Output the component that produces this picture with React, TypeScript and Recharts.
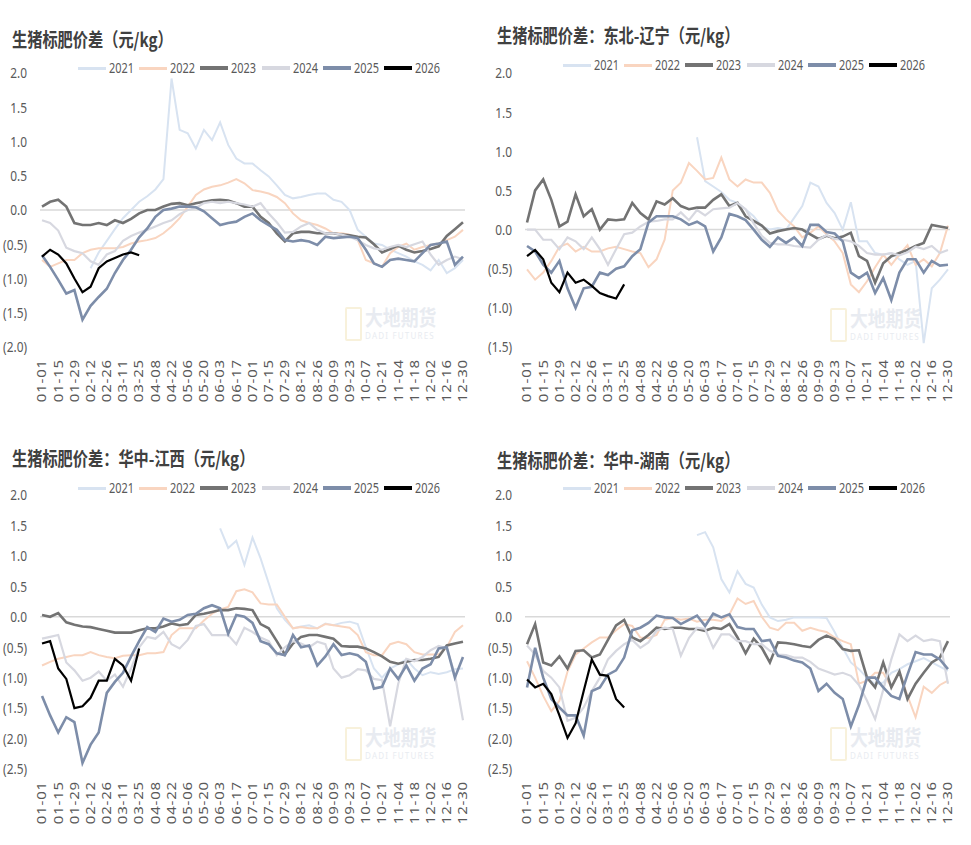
import React from 'react';
import { LineChart, Line, XAxis, YAxis, ReferenceLine } from 'recharts';

// weekly samples, 53 points from 01-01 to 12-30; ticks every two samples
const xTickLabels = ['01-01', '01-15', '01-29', '02-12', '02-26', '03-11', '03-25', '04-08', '04-22', '05-06', '05-20', '06-03', '06-17', '07-01', '07-15', '07-29', '08-12', '08-26', '09-09', '09-23', '10-07', '10-21', '11-04', '11-18', '12-02', '12-16', '12-30'];
const years = ['2021', '2022', '2023', '2024', '2025', '2026'];

const n6 = [null, null, null, null, null, null];
const n21 = [null, null, null, null, null, null, null, null, null, null, null, null, null, null, null, null, null, null, null, null, null];

// 全国
const national2021 = [...n6, -0.85, -0.62, -0.45, -0.28, -0.12, 0.0, 0.12, 0.2, 0.3, 0.45, 1.92, 1.17, 1.12, 0.9, 1.17, 1.02, 1.28, 0.95, 0.75, 0.68, 0.68, 0.58, 0.49, 0.36, 0.22, 0.17, 0.19, 0.22, 0.24, 0.24, 0.15, 0.12, 0.0, -0.29, -0.39, -0.49, -0.51, -0.58, -0.63, -0.68, -0.75, -0.8, -0.88, -0.73, -0.92, -0.85, -0.73];
const national2022 = [-0.73, -0.83, -0.78, -0.73, -0.73, -0.63, -0.58, -0.56, -0.56, -0.56, -0.54, -0.49, -0.46, -0.44, -0.41, -0.34, -0.24, -0.12, 0.05, 0.22, 0.3, 0.34, 0.36, 0.4, 0.45, 0.39, 0.29, 0.27, 0.24, 0.19, 0.1, -0.05, -0.15, -0.19, -0.22, -0.27, -0.34, -0.34, -0.36, -0.44, -0.73, -0.78, -0.83, -0.63, -0.54, -0.49, -0.58, -0.54, -0.51, -0.49, -0.44, -0.39, -0.29];
const national2023 = [0.05, 0.12, 0.15, 0.05, -0.19, -0.22, -0.22, -0.19, -0.22, -0.15, -0.19, -0.13, -0.05, 0.0, 0.0, 0.05, 0.09, 0.1, 0.07, 0.1, 0.12, 0.14, 0.15, 0.14, 0.1, 0.05, 0.05, -0.1, -0.19, -0.34, -0.46, -0.34, -0.32, -0.32, -0.34, -0.34, -0.34, -0.36, -0.37, -0.39, -0.4, -0.5, -0.62, -0.57, -0.52, -0.58, -0.62, -0.6, -0.57, -0.53, -0.38, -0.28, -0.18];
const national2024 = [-0.15, -0.19, -0.3, -0.55, -0.6, -0.63, -0.75, -0.8, -0.65, -0.6, -0.45, -0.38, -0.33, -0.29, -0.24, -0.19, -0.15, -0.06, 0.0, 0.03, 0.1, 0.12, 0.1, 0.12, 0.1, 0.08, 0.05, 0.1, -0.05, -0.18, -0.33, -0.32, -0.24, -0.19, -0.29, -0.34, -0.34, -0.36, -0.39, -0.44, -0.51, -0.56, -0.58, -0.54, -0.51, -0.54, -0.5, -0.46, -0.65, -0.8, -0.73, -0.68, -0.72];
const national2025 = [-0.66, -0.83, -1.02, -1.22, -1.17, -1.6, -1.4, -1.27, -1.15, -0.92, -0.73, -0.58, -0.4, -0.27, -0.1, 0.0, 0.02, 0.05, 0.05, 0.04, -0.02, -0.12, -0.22, -0.19, -0.17, -0.1, -0.05, -0.15, -0.22, -0.29, -0.44, -0.46, -0.44, -0.46, -0.51, -0.39, -0.41, -0.4, -0.39, -0.41, -0.58, -0.78, -0.83, -0.73, -0.71, -0.73, -0.75, -0.63, -0.51, -0.49, -0.46, -0.8, -0.68];
const national2026 = [-0.68, -0.58, -0.65, -0.78, -1.0, -1.2, -1.12, -0.85, -0.75, -0.7, -0.65, -0.62, -0.66];

// 东北-辽宁
const liaoning2021 = [...n21, 1.18, 0.62, 0.55, 0.48, 0.38, 0.34, 0.26, 0.17, 0.04, 0.0, 0.02, 0.0, 0.15, 0.3, 0.6, 0.55, 0.34, 0.21, 0.0, 0.35, -0.15, -0.15, -0.3, -0.32, -0.3, -0.38, -0.45, -0.4, -1.45, -0.75, -0.64, -0.51];
const liaoning2022 = [-0.51, -0.64, -0.55, -0.4, -0.22, -0.18, -0.28, -0.22, -0.28, -0.28, -0.24, -0.22, -0.25, -0.28, -0.3, -0.48, -0.38, -0.13, 0.5, 0.6, 0.85, 0.75, 0.64, 0.66, 0.92, 0.64, 0.55, 0.64, 0.6, 0.6, 0.47, 0.24, 0.13, 0.04, -0.1, -0.04, 0.04, -0.06, -0.15, -0.3, -0.7, -0.8, -0.66, -0.48, -0.32, -0.45, -0.32, -0.2, -0.45, -0.38, -0.47, -0.3, 0.05];
const liaoning2023 = [0.09, 0.5, 0.64, 0.38, 0.04, 0.1, 0.45, 0.17, 0.26, 0.0, 0.13, 0.12, 0.13, 0.34, 0.21, 0.13, 0.36, 0.32, 0.4, 0.3, 0.26, 0.28, 0.28, 0.38, 0.45, 0.3, 0.34, 0.17, 0.11, 0.05, -0.05, -0.02, 0.0, 0.02, 0.0, -0.06, -0.12, -0.08, -0.11, -0.09, -0.04, -0.34, -0.4, -0.68, -0.43, -0.34, -0.3, -0.26, -0.21, -0.17, 0.06, 0.04, 0.02];
const liaoning2024 = [0.0, 0.0, -0.13, -0.13, -0.25, -0.1, -0.15, -0.25, -0.1, -0.25, -0.45, -0.25, -0.06, -0.04, 0.04, 0.1, 0.11, 0.13, 0.13, 0.22, 0.12, 0.25, 0.18, 0.26, 0.27, 0.28, 0.34, 0.26, 0.08, -0.08, -0.17, -0.19, -0.19, -0.21, -0.22, -0.23, -0.13, -0.07, -0.12, -0.13, -0.15, -0.21, -0.3, -0.32, -0.32, -0.3, -0.33, -0.29, -0.22, -0.25, -0.21, -0.3, -0.26];
const liaoning2025 = [-0.21, -0.28, -0.45, -0.55, -0.4, -0.75, -1.0, -0.75, -0.73, -0.55, -0.58, -0.5, -0.47, -0.34, -0.25, 0.09, 0.17, 0.17, 0.17, 0.13, 0.06, 0.1, 0.04, -0.28, -0.1, 0.2, 0.17, 0.12, 0.0, -0.13, -0.22, -0.1, -0.17, -0.1, -0.21, 0.06, 0.06, -0.03, -0.05, -0.15, -0.55, -0.62, -0.55, -0.81, -0.62, -0.9, -0.55, -0.38, -0.38, -0.55, -0.4, -0.46, -0.45];
const liaoning2026 = [-0.34, -0.26, -0.38, -0.68, -0.8, -0.55, -0.68, -0.64, -0.72, -0.81, -0.85, -0.88, -0.7];

// 华中-江西
const jiangxi2021 = [...n21, null, 1.45, 1.13, 1.25, 0.85, 1.3, 0.96, 0.55, 0.14, -0.05, -0.19, -0.16, -0.14, -0.19, -0.11, -0.14, -0.1, -0.08, -0.12, -0.5, -0.85, -1.0, -0.85, -0.78, -0.7, -0.85, -0.96, -0.91, -0.94, -0.91, -0.86, -0.85];
const jiangxi2022 = [-0.8, -0.74, -0.69, -0.66, -0.63, -0.63, -0.58, -0.63, -0.66, -0.68, -0.64, -0.63, -0.63, -0.6, -0.6, -0.58, -0.3, -0.19, -0.19, -0.19, -0.06, 0.05, 0.12, 0.16, 0.42, 0.45, 0.4, 0.22, 0.2, 0.2, 0.0, -0.19, -0.17, -0.19, -0.19, -0.12, -0.14, -0.16, -0.18, -0.3, -0.58, -0.63, -0.63, -0.45, -0.41, -0.45, -0.58, -0.62, -0.62, -0.62, -0.5, -0.25, -0.14];
const jiangxi2023 = [0.03, 0.0, 0.06, -0.09, -0.13, -0.16, -0.17, -0.2, -0.23, -0.26, -0.26, -0.26, -0.22, -0.19, -0.19, -0.16, -0.11, -0.14, -0.12, 0.03, 0.05, 0.08, 0.11, 0.11, 0.14, 0.13, 0.11, -0.12, -0.19, -0.4, -0.62, -0.44, -0.33, -0.3, -0.3, -0.33, -0.36, -0.48, -0.49, -0.49, -0.52, -0.58, -0.65, -0.74, -0.77, -0.74, -0.71, -0.71, -0.69, -0.66, -0.47, -0.44, -0.41];
const jiangxi2024 = [-0.36, -0.33, -0.3, -0.75, -0.88, -1.05, -1.0, -0.9, -1.05, -0.95, -1.15, -0.85, -0.5, -0.33, -0.36, -0.25, -0.45, -0.52, -0.38, -0.15, -0.12, -0.3, -0.3, -0.3, -0.45, -0.18, -0.25, -0.34, -0.4, -0.63, -0.5, -0.4, -0.44, -0.5, -0.41, -0.45, -0.85, -1.0, -0.96, -0.86, -0.88, -1.02, -1.04, -1.8, -1.1, -0.69, -0.73, -0.66, -0.55, -0.48, -0.52, -0.95, -1.7];
const jiangxi2025 = [-1.3, -1.62, -1.9, -1.65, -1.73, -2.4, -2.1, -1.9, -1.25, -1.07, -0.92, -0.65, -0.4, -0.17, -0.25, -0.03, -0.08, -0.05, 0.03, 0.05, 0.14, 0.19, 0.14, -0.28, 0.03, 0.0, -0.1, -0.4, -0.45, -0.6, -0.63, -0.3, -0.5, -0.47, -0.8, -0.65, -0.45, -0.63, -0.6, -0.63, -0.74, -1.18, -1.15, -0.85, -1.02, -0.8, -1.05, -0.85, -0.78, -0.52, -0.5, -1.0, -0.66];
const jiangxi2026 = [-0.44, -0.4, -0.85, -1.02, -1.5, -1.47, -1.33, -1.05, -1.05, -0.69, -0.8, -1.05, -0.52];

// 华中-湖南
const hunan2021 = [...n21, 1.34, 1.39, 1.14, 0.62, 0.4, 0.75, 0.54, 0.48, 0.2, -0.01, -0.07, -0.05, -0.01, -0.01, -0.01, -0.01, -0.02, -0.25, -0.51, -0.75, -0.86, -1.0, -1.11, -1.08, -0.92, -0.86, -0.78, -0.73, -0.68, -0.75, -0.82, -0.89];
const hunan2022 = [-0.73, -1.0, -1.3, -1.55, -1.38, -0.9, -0.62, -0.52, -0.42, -0.34, -0.34, -0.22, -0.12, -0.15, -0.34, -0.35, -0.3, -0.05, -0.02, -0.05, -0.03, -0.08, -0.05, -0.05, -0.07, 0.04, 0.3, 0.21, 0.26, 0.0, -0.18, -0.22, -0.1, -0.1, -0.23, -0.18, -0.22, -0.25, -0.34, -0.4, -0.45, -1.1, -1.05, -0.92, -0.92, -1.16, -0.9, -1.3, -1.65, -1.15, -1.25, -1.12, -1.05];
const hunan2023 = [-0.45, -0.12, -0.75, -0.8, -0.65, -0.85, -0.56, -0.55, -0.67, -0.62, -0.38, -0.14, -0.05, -0.34, -0.4, -0.3, -0.18, -0.2, -0.18, -0.18, -0.2, -0.2, -0.23, -0.18, -0.2, -0.12, -0.34, -0.6, -0.36, -0.51, -0.75, -0.42, -0.43, -0.45, -0.48, -0.5, -0.38, -0.31, -0.37, -0.53, -0.56, -0.55, -1.0, -1.16, -0.75, -1.16, -0.9, -1.35, -1.1, -0.92, -0.75, -0.67, -0.4];
const hunan2024 = [-0.47, -0.62, -0.89, -1.0, -1.16, -1.71, -1.66, -1.49, -1.22, -1.0, -0.7, -0.56, -0.45, -0.38, -0.51, -0.42, -0.23, -0.18, -0.2, -0.64, -0.35, -0.18, -0.2, -0.51, -0.29, -0.29, -0.4, -0.4, -0.45, -0.45, -0.56, -0.62, -0.63, -0.67, -0.67, -0.74, -0.85, -0.9, -0.95, -0.92, -0.97, -1.12, -1.38, -1.68, -1.2, -0.7, -0.29, -0.4, -0.31, -0.4, -0.37, -0.4, -1.1];
const hunan2025 = [-1.16, -0.51, -1.0, -1.35, -1.49, -1.62, -1.62, -1.95, -1.22, -1.16, -0.95, -0.88, -0.67, -0.22, -0.18, -0.1, 0.02, -0.01, -0.02, -0.12, -0.05, 0.02, -0.15, 0.05, -0.01, 0.04, -0.17, -0.2, -0.2, -0.4, -0.38, -0.64, -0.67, -0.72, -0.75, -0.85, -1.22, -1.1, -1.25, -1.35, -1.8, -1.45, -1.0, -1.0, -1.16, -1.3, -1.35, -0.95, -0.58, -0.62, -0.62, -0.7, -0.86];
const hunan2026 = [-1.03, -1.16, -1.1, -1.27, -1.62, -1.99, -1.75, -1.22, -0.7, -0.95, -0.97, -1.35, -1.49];

const yTicksA = [-2, -1.5, -1, -0.5, 0, 0.5, 1, 1.5, 2];
const yTicksB = [-1.5, -1, -0.5, 0, 0.5, 1, 1.5, 2];
const yTicksC = [-2.5, -2, -1.5, -1, -0.5, 0, 0.5, 1, 1.5, 2];

const styles: Record<string, { color: string; width: number }> = {
  '2021': { color: '#d8e3f1', width: 2 },
  '2022': { color: '#f9d5c0', width: 2 },
  '2023': { color: '#737373', width: 2.6 },
  '2024': { color: '#d7d8e0', width: 2.2 },
  '2025': { color: '#7d8da9', width: 2.6 },
  '2026': { color: '#000000', width: 2.2 },
};

const TEXT = '#595959';
const FONT = '"Noto Sans", "Noto Sans CJK SC", sans-serif';
const xTicks = xTickLabels.map((_, k) => k * 2);

const fmt = (v: number) => (v < 0 ? `(${Math.abs(v).toFixed(1)})` : v.toFixed(1));

const XTick = (props: any) => {
  const { x, payload } = props;
  return (
    <text
      transform={`translate(${x},359) rotate(-90) scale(1,0.8)`}
      textAnchor="end"
      dy={5.4}
      fontSize={15}
      letterSpacing={0.8}
      fill={TEXT}
      fontFamily={FONT}
    >
      {xTickLabels[payload.value / 2]}
    </text>
  );
};

const YTick = (props: any) => {
  const { y, payload } = props;
  return (
    <text
      transform={`translate(27,${y}) scale(0.85,1)`}
      textAnchor="end"
      dominantBaseline="central"
      fontSize={14}
      fill={TEXT}
      fontFamily={FONT}
    >
      {fmt(payload.value)}
    </text>
  );
};

const LegendBar = ({ top }: { top: number }) => (
  <div style={{ position: 'absolute', left: 78, top: top - 10, height: 20, width: 380 }}>
    {years.map((y, i) => (
      <div key={y} style={{ position: 'absolute', left: i * 61.2, top: 0, height: 20 }}>
        <div
          style={{
            position: 'absolute',
            left: 0,
            top: 10 - (styles[y].width + 1) / 2,
            width: 28,
            height: styles[y].width + 1,
            background: styles[y].color,
          }}
        />
        <span
          style={{
            position: 'absolute',
            left: 31,
            top: 0,
            lineHeight: '20px',
            fontSize: 14,
            color: TEXT,
            fontFamily: FONT,
            transform: 'scaleX(0.78)',
            transformOrigin: 'left center',
            whiteSpace: 'nowrap',
          }}
        >
          {y}
        </span>
      </div>
    ))}
  </div>
);

const Watermark = ({ top }: { top: number }) => (
  <div style={{ position: 'absolute', left: 345, top, width: 105, height: 36, opacity: 0.55 }}>
    <div style={{ position: 'absolute', left: 0, top: 2, width: 13, height: 30, border: '2px solid #f3e6bf', borderRadius: 2 }} />
    <div
      style={{
        position: 'absolute',
        left: 20,
        top: -4,
        fontSize: 21,
        fontWeight: 700,
        color: '#d6dce6',
        fontFamily: '"Noto Sans CJK SC", sans-serif',
        transform: 'scaleX(0.85)',
        transformOrigin: 'left top',
        whiteSpace: 'nowrap',
      }}
    >
      大地期货
    </div>
    <div
      style={{
        position: 'absolute',
        left: 20,
        top: 25,
        fontSize: 8,
        letterSpacing: 1.2,
        color: '#d6dce6',
        fontFamily: FONT,
        whiteSpace: 'nowrap',
      }}
    >
      DADI FUTURES
    </div>
  </div>
);

type PanelProps = {
  title: string;
  left: number;
  top: number;
  titleY: number;
  legendY: number;
  markY: number;
  yTicks: number[];
  values: Record<string, (number | null)[]>;
};

const Panel = ({ title, left, top, titleY, legendY, markY, yTicks, values }: PanelProps) => {
  const rows = Array.from({ length: 53 }, (_, i) => {
    const r: Record<string, number | null> = { idx: i };
    years.forEach((y) => {
      const v = values[y][i];
      r[y] = v === undefined ? null : v;
    });
    return r;
  });
  return (
    <div style={{ position: 'absolute', left, top, width: 480, height: 420 }}>
      <Watermark top={markY} />
      <LineChart width={480} height={420} data={rows} margin={{ top: 73, right: 15, bottom: 13, left: 0 }}>
        <XAxis
          type="number"
          dataKey="idx"
          domain={[-0.25, 52.25]}
          ticks={xTicks}
          interval={0}
          tick={<XTick />}
          axisLine={false}
          tickLine={false}
          height={60}
        />
        <YAxis
          type="number"
          domain={[yTicks[0], yTicks[yTicks.length - 1]]}
          ticks={yTicks}
          interval={0}
          width={40}
          tick={<YTick />}
          axisLine={false}
          tickLine={false}
        />
        <ReferenceLine y={0} stroke="#d9d9d9" strokeWidth={1.5} />
        {years.map((y) => (
          <Line
            key={y}
            dataKey={y}
            type="linear"
            stroke={styles[y].color}
            strokeWidth={styles[y].width}
            dot={false}
            activeDot={false}
            isAnimationActive={false}
            connectNulls={false}
          />
        ))}
      </LineChart>
      <div
        style={{
          position: 'absolute',
          left: 12,
          top: titleY - 14,
          lineHeight: '28px',
          fontSize: 19,
          fontWeight: 700,
          color: '#404040',
          fontFamily: '"Noto Sans CJK SC", sans-serif',
          transform: 'scaleX(0.8)',
          transformOrigin: 'left center',
          whiteSpace: 'nowrap',
        }}
      >
        {title}
      </div>
      <LegendBar top={legendY} />
    </div>
  );
};

export default function App() {
  return (
    <div style={{ position: 'absolute', left: 0, top: 0, width: 971, height: 845, background: '#fff', fontFamily: FONT }}>
      <Panel
        title="生猪标肥价差（元/kg）"
        left={0}
        top={0}
        titleY={39}
        legendY={68}
        markY={305}
        yTicks={yTicksA}
        values={{ '2021': national2021, '2022': national2022, '2023': national2023, '2024': national2024, '2025': national2025, '2026': national2026 }}
      />
      <Panel
        title="生猪标肥价差：东北-辽宁（元/kg）"
        left={485}
        top={0}
        titleY={35}
        legendY={65}
        markY={306}
        yTicks={yTicksB}
        values={{ '2021': liaoning2021, '2022': liaoning2022, '2023': liaoning2023, '2024': liaoning2024, '2025': liaoning2025, '2026': liaoning2026 }}
      />
      <Panel
        title="生猪标肥价差：华中-江西（元/kg）"
        left={0}
        top={422}
        titleY={36}
        legendY={66}
        markY={303}
        yTicks={yTicksC}
        values={{ '2021': jiangxi2021, '2022': jiangxi2022, '2023': jiangxi2023, '2024': jiangxi2024, '2025': jiangxi2025, '2026': jiangxi2026 }}
      />
      <Panel
        title="生猪标肥价差：华中-湖南（元/kg）"
        left={485}
        top={422}
        titleY={38}
        legendY={66}
        markY={303}
        yTicks={yTicksC}
        values={{ '2021': hunan2021, '2022': hunan2022, '2023': hunan2023, '2024': hunan2024, '2025': hunan2025, '2026': hunan2026 }}
      />
    </div>
  );
}
